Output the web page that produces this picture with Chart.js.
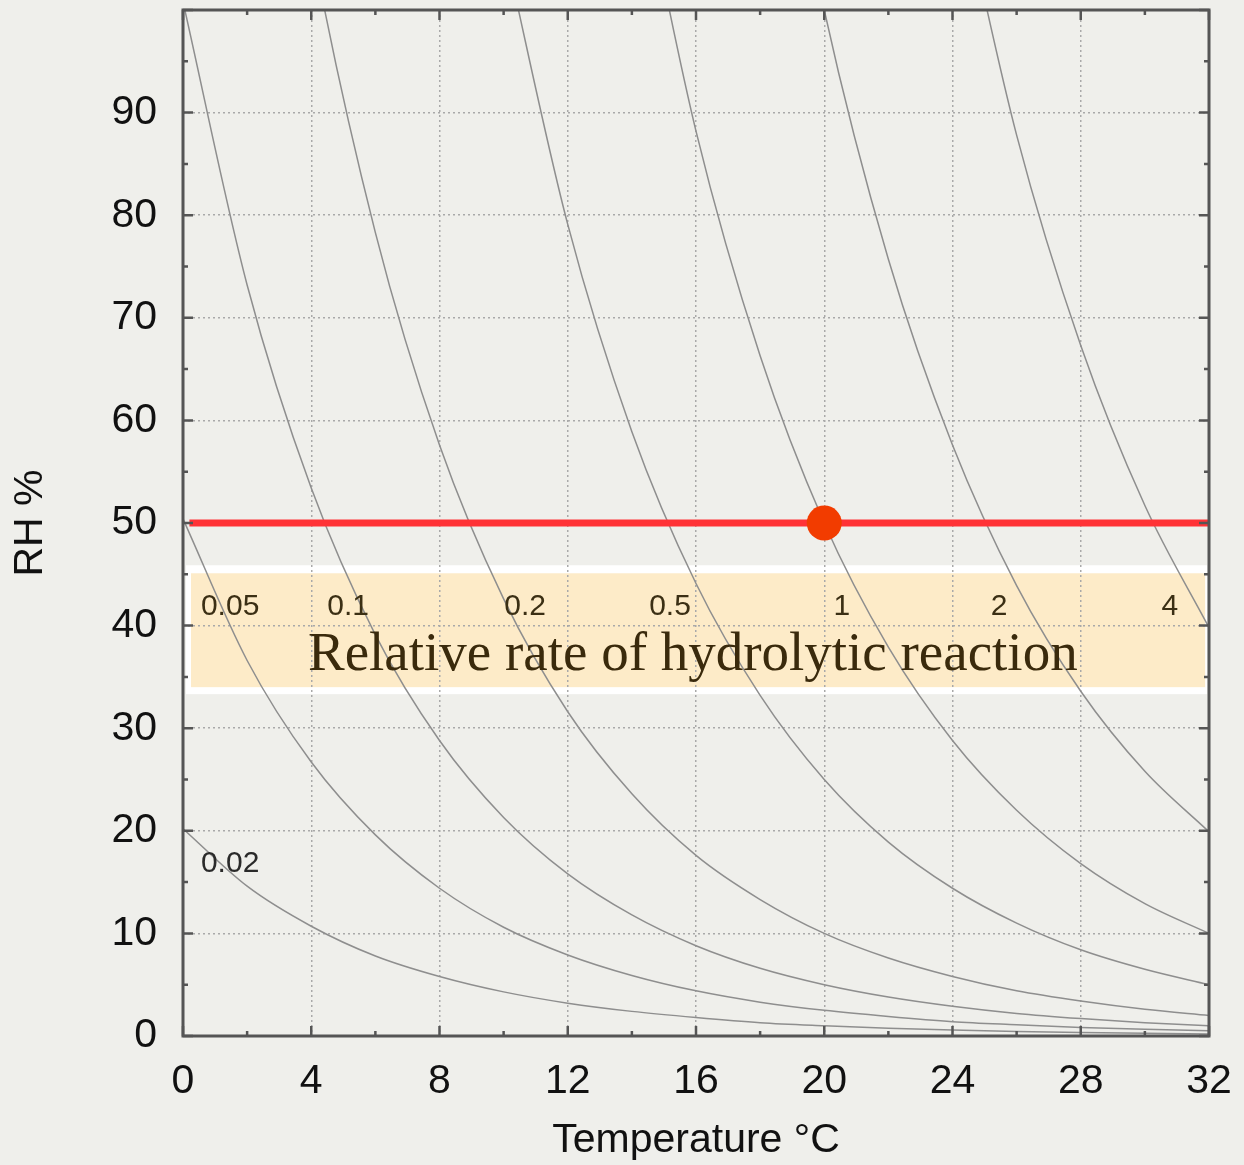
<!DOCTYPE html>
<html>
<head>
<meta charset="utf-8">
<script src="https://cdn.jsdelivr.net/npm/chart.js@4.4.0/dist/chart.umd.min.js"></script>
<style>
  html, body { margin: 0; padding: 0; background: #efefeb; }
  canvas { display: block; }
</style>
</head>
<body>
<canvas id="chart" width="1244" height="1165"></canvas>
<script>
// temperature grid (°C) shared by all rate curves
const temps = [0, 2, 4, 6, 8, 10, 12, 14, 16, 18, 20, 22, 24, 26, 28, 30, 32];

// RH % along each iso-rate curve (null = off the top of the chart)
const rh002 = [20.2, 14.6, 10.7, 7.8, 5.8, 4.3, 3.2, 2.4, 1.8, 1.3, 1.0, 0.76, 0.58, 0.44, 0.34, 0.26, 0.2];
const rh005 = [50.4, 36.6, 26.7, 19.6, 14.4, 10.6, 7.9, 5.9, 4.4, 3.3, 2.5, 1.9, 1.4, 1.1, 0.84, 0.65, 0.5];
const rh01 = [100.8, 73.2, 53.4, 39.1, 28.8, 21.3, 15.8, 11.8, 8.8, 6.6, 5.0, 3.8, 2.9, 2.2, 1.7, 1.3, 1.0];
const rh02 = [null, 146.4, 106.8, 78.3, 57.6, 42.6, 31.6, 23.6, 17.6, 13.3, 10.0, 7.6, 5.8, 4.4, 3.4, 2.6, 2.0];
const rh05 = [null, null, null, null, null, 106.5, 79.1, 58.9, 44.1, 33.2, 25.0, 18.9, 14.4, 11.0, 8.4, 6.5, 5.0];
const rh1 = [null, null, null, null, null, null, null, 117.8, 88.2, 66.3, 50.0, 37.9, 28.8, 22.0, 16.8, 12.9, 10.0];
const rh2 = [null, null, null, null, null, null, null, null, null, 132.6, 100.0, 75.7, 57.6, 43.9, 33.6, 25.8, 19.9];
const rh4 = [null, null, null, null, null, null, null, null, null, null, null, null, 115.2, 87.8, 67.3, 51.7, 39.8];

// curve labels inside the band, and the lone one near the bottom
const curveLabels = ["0.05", "0.1", "0.2", "0.5", "1", "2", "4"];
const curveLabelTemps = [1.47, 5.15, 10.67, 15.19, 20.55, 25.45, 30.78];
const curveLabelRH = 41.8;
const lowLabel = "0.02";
const lowLabelTemp = 1.47;
const lowLabelRH = 16.8;

// reference condition: 20 °C, 50 %RH
const refTemp = [20];
const refRH = [50];
const lineTemps = [0.2, 32];
const lineRH = [50, 50];

// highlighted band and its caption
const bandRH = [34.0, 45.1];
const bandTemps = [0.25, 31.88];
const bandTitle = "Relative rate of hydrolytic reaction";
const bandTitleTemp = 15.9;
const bandTitleRH = 35.7;

// axis ticks
const xTicks = [0, 4, 8, 12, 16, 20, 24, 28, 32];
const xMinorTicks = [2, 6, 10, 14, 18, 22, 26, 30];
const yTicks = [0, 10, 20, 30, 40, 50, 60, 70, 80, 90, 100];
const yMinorTicks = [5, 15, 25, 35, 45, 55, 65, 75, 85, 95];

const BG = "#efefeb";
const SANS = "'Liberation Sans', Arial, Helvetica, sans-serif";

function toPoints(values) {
  const pts = [];
  values.forEach((v, i) => {
    if (v !== null) pts.push({ x: temps[i], y: v });
  });
  return pts;
}

function curveDataset(values) {
  return {
    data: toPoints(values),
    borderColor: "#8e8e8e",
    borderWidth: 1.5,
    pointRadius: 0,
    fill: false,
    cubicInterpolationMode: "monotone",
  };
}

function noScalePadding(scale) {
  scale.paddingLeft = 0;
  scale.paddingRight = 0;
  scale.paddingTop = 0;
  scale.paddingBottom = 0;
}

const overlayPlugin = {
  id: "overlay",
  beforeDraw(chart) {
    const { ctx, scales } = chart;
    const x = scales.x;
    const y = scales.y;
    ctx.save();
    ctx.fillStyle = BG;
    ctx.fillRect(0, 0, chart.width, chart.height);

    // band: white rim then beige fill
    const x0 = x.getPixelForValue(bandTemps[0]);
    const x1 = x.getPixelForValue(bandTemps[1]);
    const yTop = y.getPixelForValue(bandRH[1]);
    const yBot = y.getPixelForValue(bandRH[0]);
    ctx.fillStyle = "#ffffff";
    ctx.fillRect(x0 - 5, yTop - 8, x1 - x0 + 7, yBot - yTop + 15);
    ctx.fillStyle = "#fdebc8";
    ctx.fillRect(x0, yTop, x1 - x0, yBot - yTop);
    ctx.restore();
  },
  afterDatasetsDraw(chart) {
    const { ctx, scales } = chart;
    const x = scales.x;
    const y = scales.y;
    ctx.save();
    ctx.textAlign = "center";
    ctx.textBaseline = "middle";
    ctx.font = "30px " + SANS;
    ctx.fillStyle = "#3b2f14";
    curveLabels.forEach((label, i) => {
      ctx.fillText(label, x.getPixelForValue(curveLabelTemps[i]), y.getPixelForValue(curveLabelRH));
    });
    ctx.fillStyle = "#2a2a2a";
    ctx.fillText(lowLabel, x.getPixelForValue(lowLabelTemp), y.getPixelForValue(lowLabelRH));

    ctx.textBaseline = "alphabetic";
    ctx.font = "55px 'Liberation Serif', 'Times New Roman', serif";
    ctx.fillStyle = "#3a2a0c";
    ctx.fillText(bandTitle, x.getPixelForValue(bandTitleTemp), y.getPixelForValue(bandTitleRH));
    ctx.restore();
  },
  afterDraw(chart) {
    const { ctx, chartArea: a, scales } = chart;
    const x = scales.x;
    const y = scales.y;
    ctx.save();
    ctx.strokeStyle = "#555555";
    ctx.lineWidth = 2.5;
    ctx.beginPath();
    const tick = (x1, y1, x2, y2) => { ctx.moveTo(x1, y1); ctx.lineTo(x2, y2); };
    xTicks.forEach((t) => {
      const px = x.getPixelForValue(t);
      tick(px, a.bottom, px, a.bottom - 10);
      tick(px, a.top, px, a.top + 10);
    });
    xMinorTicks.forEach((t) => {
      const px = x.getPixelForValue(t);
      tick(px, a.bottom, px, a.bottom - 5);
      tick(px, a.top, px, a.top + 5);
    });
    yTicks.forEach((v) => {
      const py = y.getPixelForValue(v);
      tick(a.left, py, a.left + 10, py);
      tick(a.right, py, a.right - 10, py);
    });
    yMinorTicks.forEach((v) => {
      const py = y.getPixelForValue(v);
      tick(a.left, py, a.left + 5, py);
      tick(a.right, py, a.right - 5, py);
    });
    ctx.stroke();
    ctx.lineWidth = 3;
    ctx.strokeRect(a.left, a.top, a.right - a.left, a.bottom - a.top);
    ctx.restore();
  },
};

const chart = new Chart(document.getElementById("chart").getContext("2d"), {
  type: "line",
  data: {
    datasets: [
      {
        data: refTemp.map((t, i) => ({ x: t, y: refRH[i] })),
        showLine: false,
        pointRadius: 17.5,
        pointBackgroundColor: "#f23c00",
        pointBorderWidth: 0,
      },
      {
        data: lineTemps.map((t, i) => ({ x: t, y: lineRH[i] })),
        borderColor: "#ff3236",
        borderWidth: 7,
        pointRadius: 0,
      },
      curveDataset(rh002),
      curveDataset(rh005),
      curveDataset(rh01),
      curveDataset(rh02),
      curveDataset(rh05),
      curveDataset(rh1),
      curveDataset(rh2),
      curveDataset(rh4),
    ],
  },
  options: {
    responsive: false,
    animation: false,
    layout: { autoPadding: false, padding: { top: 10, right: 35, left: 0, bottom: 0 } },
    plugins: {
      legend: { display: false },
      tooltip: { enabled: false },
    },
    scales: {
      x: {
        type: "linear",
        min: 0,
        max: 32,
        afterBuildTicks: (scale) => { scale.ticks = xTicks.map((v) => ({ value: v })); },
        afterFit: (scale) => { scale.height = 129; noScalePadding(scale); },
        ticks: {
          font: { size: 41, family: SANS },
          color: "#111111",
          padding: 21,
          maxRotation: 0,
        },
        grid: { color: "#a9a9a9", lineWidth: 1.5, drawTicks: false },
        border: { display: false, dash: [2, 3] },
        title: {
          display: true,
          text: "Temperature °C",
          font: { size: 41, family: SANS },
          color: "#111111",
          padding: { top: 0, bottom: 0 },
        },
      },
      y: {
        type: "linear",
        min: 0,
        max: 100,
        afterBuildTicks: (scale) => { scale.ticks = yTicks.map((v) => ({ value: v })); },
        afterFit: (scale) => { scale.width = 183; noScalePadding(scale); },
        ticks: {
          font: { size: 41, family: SANS },
          color: "#111111",
          padding: 26,
          callback: (v) => (v === 100 ? "" : String(v)),
        },
        grid: { color: "#a9a9a9", lineWidth: 1.5, drawTicks: false },
        border: { display: false, dash: [2, 3] },
        title: {
          display: true,
          text: "RH %",
          font: { size: 41, family: SANS },
          color: "#111111",
          padding: { top: 6, bottom: 0 },
        },
      },
    },
  },
  plugins: [overlayPlugin],
});
</script>
</body>
</html>
